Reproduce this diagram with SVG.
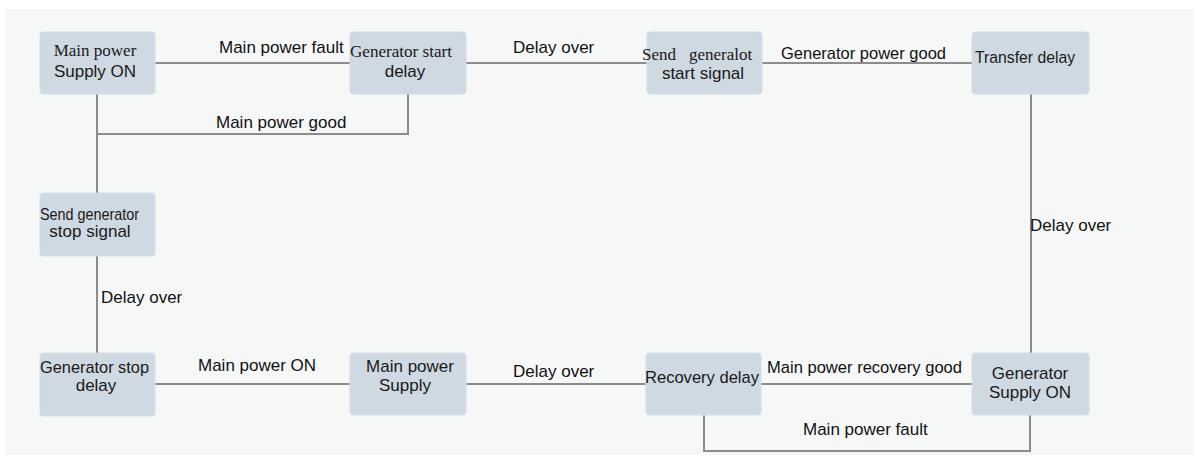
<svg xmlns="http://www.w3.org/2000/svg" width="1194" height="458" viewBox="0 0 1194 458">
<style>
.node rect{fill:#cfd9e1;stroke:#d6dde3;stroke-width:1}
.serif{font-family:"Liberation Serif","Times New Roman",serif;font-size:17px;fill:#1a1a1a}
.sans{font-family:"Liberation Sans",Arial,sans-serif;font-size:17px;fill:#1a1a1a}
.lbl{font-family:"Liberation Sans",Arial,sans-serif;font-size:17px;fill:#111}
.conn path{fill:none;stroke:#8c8c8c;stroke-width:2}
</style>
<rect x="0" y="0" width="1194" height="458" fill="#ffffff"/>
<rect x="5" y="9" width="1189" height="446" fill="#f6f8f8"/>
<g class="conn" id="connectors">
<path d="M155,63 H350"/>
<path d="M466,63 H647"/>
<path d="M762,63 H972"/>
<path d="M408,94 V134 H97 V94"/>
<path d="M97,134 V193"/>
<path d="M97,256 V353"/>
<path d="M1031,94 V353"/>
<path d="M155,384 H350"/>
<path d="M466,384 H646"/>
<path d="M761,384 H972"/>
<path d="M704,415 V451 H1030 V415"/>
</g>
<g id="labels">
<text class="lbl" x="219" y="53">Main power fault</text>
<text class="lbl" x="216" y="128">Main power good</text>
<text class="lbl" x="513" y="53">Delay over</text>
<text class="lbl" x="781" y="59" textLength="165" lengthAdjust="spacingAndGlyphs">Generator power good</text>
<text class="lbl" x="1030" y="231">Delay over</text>
<text class="lbl" x="101" y="303">Delay over</text>
<text class="lbl" x="198" y="371">Main power ON</text>
<text class="lbl" x="513" y="377">Delay over</text>
<text class="lbl" x="767" y="373" textLength="195" lengthAdjust="spacingAndGlyphs">Main power recovery good</text>
<text class="lbl" x="803" y="435">Main power fault</text>
</g>
<g class="node" id="main-power-supply-on">
<rect x="40" y="32" width="115" height="62" rx="3"/>
<text class="serif" x="95" y="56" text-anchor="middle">Main power</text>
<text class="sans" x="95" y="77" text-anchor="middle">Supply ON</text>
</g>
<g class="node" id="generator-start-delay">
<rect x="350" y="32" width="116" height="62" rx="3"/>
<text class="serif" x="350" y="57" textLength="102" lengthAdjust="spacingAndGlyphs">Generator start</text>
<text class="sans" x="405" y="77" text-anchor="middle">delay</text>
</g>
<g class="node" id="send-generator-start-signal">
<rect x="647" y="32" width="115" height="62" rx="3"/>
<text class="serif" x="642" y="60">Send</text>
<text class="serif" x="689" y="60">generalot</text>
<text class="sans" x="703" y="79" text-anchor="middle">start signal</text>
</g>
<g class="node" id="transfer-delay">
<rect x="972" y="32" width="117" height="62" rx="3"/>
<text class="sans" x="975" y="63" textLength="100" lengthAdjust="spacingAndGlyphs">Transfer delay</text>
</g>
<g class="node" id="send-generator-stop-signal">
<rect x="40" y="193" width="115" height="63" rx="3"/>
<text class="sans" x="40" y="220" font-size="16" textLength="99" lengthAdjust="spacingAndGlyphs">Send generator</text>
<text class="sans" x="90" y="237" font-size="16" text-anchor="middle">stop signal</text>
</g>
<g class="node" id="generator-stop-delay">
<rect x="40" y="353" width="115" height="63" rx="3"/>
<text class="sans" x="40" y="373" textLength="109" lengthAdjust="spacingAndGlyphs">Generator stop</text>
<text class="sans" x="96" y="391" text-anchor="middle">delay</text>
</g>
<g class="node" id="main-power-supply">
<rect x="350" y="353" width="116" height="62" rx="3"/>
<text class="sans" x="410" y="372" text-anchor="middle">Main power</text>
<text class="sans" x="405" y="391" text-anchor="middle">Supply</text>
</g>
<g class="node" id="recovery-delay">
<rect x="646" y="353" width="115" height="62" rx="3"/>
<text class="sans" x="645" y="383" textLength="114" lengthAdjust="spacingAndGlyphs">Recovery delay</text>
</g>
<g class="node" id="generator-supply-on">
<rect x="972" y="353" width="117" height="62" rx="3"/>
<text class="sans" x="1030" y="379" text-anchor="middle">Generator</text>
<text class="sans" x="1030" y="398" text-anchor="middle">Supply ON</text>
</g>
</svg>
